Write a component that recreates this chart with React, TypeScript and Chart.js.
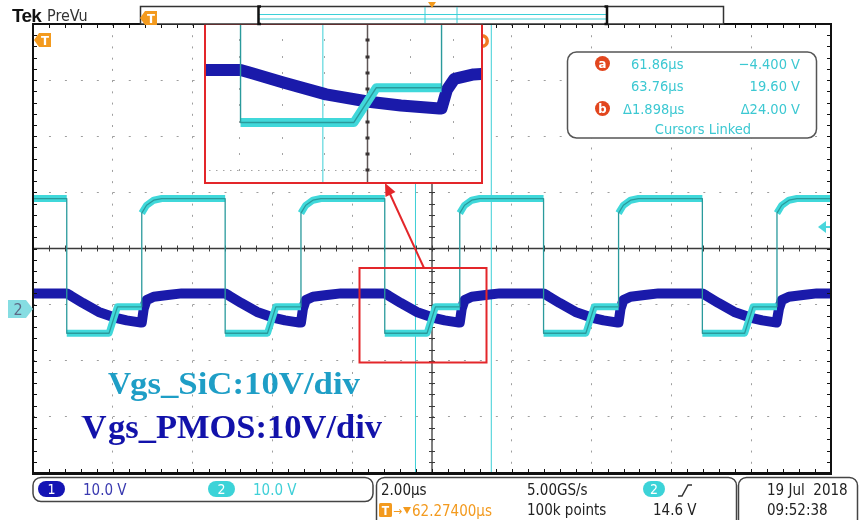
import React, { useEffect, useRef } from 'react';
import { Chart, registerables } from 'chart.js';

Chart.register(...registerables);

// Horizontal window: 2 µs/div over 10 divisions, centred on the 62.274 µs delay
const TIME_START = 52.274;
const TIME_END = 72.274;
const TIME_DIV = 2;
// Vertical window: 10 V/div over 8 divisions, channel ground 1.07 div below centre
const VOLT_MIN = -29.3;
const VOLT_MAX = 50.7;
const VOLT_DIV = 10;

// Switching edges of the SiC gate drive (µs)
const FALL_EDGES = [53.12, 57.09, 61.09, 65.07, 69.05];
const RISE_EDGES = [55.0, 58.99, 62.97, 66.95, 70.92];

// Vgs_SiC (CH2) levels, V
const SIC_HIGH = 19.6;
const SIC_LOW = -4.4;
const SIC_PLATEAU = 0.3;
// step from the negative level up to the plateau, after each falling edge (µs)
const SIC_STEP_DT = [1.06, 1.27];
// settling after each rising edge
const SIC_SETTLE_DT = [0, 0.12, 0.3, 0.5];
const SIC_SETTLE_V = [17.0, 18.4, 19.3, 19.6];

// Vgs_PMOS (CH1), V
const PMOS_HIGH = 2.7;
const PMOS_FALL_DT = [0, 0.1, 0.4, 0.8, 1.2, 1.5, 1.86];
const PMOS_FALL_V = [2.7, 2.3, 1.0, -0.6, -1.6, -2.1, -2.5];
const PMOS_RISE_DT = [0, 0.05, 0.12, 0.3, 0.65, 1.0];
const PMOS_RISE_V = [-2.5, 0.0, 1.5, 2.1, 2.4, 2.7];

// Waveform cursors
const CURSOR_T = [61.86, 63.76];
const CURSOR_V = [-4.4, 19.6];
const CURSOR_DT = 1.898;

// Zoomed view window
const ZOOM_T = [60.767, 63.339];
const ZOOM_V = [-12.46, 8.79];
const ZOOM_ROW_ANCHOR = 0.1;
const ZOOM_ROW_STEP = 2.2;

const UI_FONT = '"DejaVu Sans Condensed", "DejaVu Sans", sans-serif';
const SERIF = '"Liberation Serif", "Times New Roman", serif';

type Pt = { x: number; y: number | null };

function sicTrace(withGaps: boolean): Pt[] {
  const pts: Pt[] = [{ x: TIME_START, y: SIC_HIGH }];
  FALL_EDGES.forEach((tf, i) => {
    const tr = RISE_EDGES[i];
    pts.push({ x: tf, y: SIC_HIGH });
    if (withGaps) pts.push({ x: tf, y: null });
    pts.push({ x: tf, y: SIC_LOW });
    pts.push({ x: tf + SIC_STEP_DT[0], y: SIC_LOW });
    pts.push({ x: tf + SIC_STEP_DT[1], y: SIC_PLATEAU });
    pts.push({ x: tr, y: SIC_PLATEAU });
    if (withGaps) pts.push({ x: tr, y: null });
    SIC_SETTLE_DT.forEach((dt, k) => pts.push({ x: tr + dt, y: SIC_SETTLE_V[k] }));
  });
  pts.push({ x: TIME_END, y: SIC_HIGH });
  return pts;
}

function pmosTrace(): Pt[] {
  const pts: Pt[] = [{ x: TIME_START, y: PMOS_HIGH }];
  FALL_EDGES.forEach((tf, i) => {
    PMOS_FALL_DT.forEach((dt, k) => pts.push({ x: tf + dt, y: PMOS_FALL_V[k] }));
    PMOS_RISE_DT.forEach((dt, k) => pts.push({ x: RISE_EDGES[i] + dt, y: PMOS_RISE_V[k] }));
  });
  pts.push({ x: TIME_END, y: PMOS_HIGH });
  return pts;
}

function traceDatasets(w: { core: number; band: number; pmos: number }, vMin: number, vMax: number) {
  const common = { pointRadius: 0, tension: 0, fill: false, spanGaps: false, borderJoinStyle: 'round' as const };
  return [
    { ...common, data: sicTrace(false), borderColor: '#2a9a9c', borderWidth: w.core, order: 0 },
    { ...common, data: sicTrace(true), borderColor: '#40d8da', borderWidth: w.band, order: 1 },
    { ...common, data: pmosTrace(), borderColor: '#1a1aaa', borderWidth: w.pmos, order: 2 },
    ...CURSOR_T.map((t) => ({
      ...common,
      data: [
        { x: t, y: vMin },
        { x: t, y: vMax },
      ],
      borderColor: '#3ccfd6',
      borderWidth: 1,
      order: 3,
    })),
  ];
}

function stepValues(from: number, to: number, step: number) {
  const out: number[] = [];
  for (let v = from; v <= to + 1e-6; v += step) out.push(v);
  return out;
}

// Centre cross, frame and minor ticks of the main graticule
const mainGraticule = {
  id: 'mainGraticule',
  beforeDatasetsDraw(chart: any) {
    const { ctx, chartArea: a, scales } = chart;
    const x = scales.x;
    const y = scales.y;
    const cx = x.getPixelForValue((TIME_START + TIME_END) / 2);
    const cy = y.getPixelForValue((VOLT_MIN + VOLT_MAX) / 2);
    ctx.save();
    ctx.strokeStyle = '#3a3a3a';
    ctx.lineWidth = 1.3;
    ctx.beginPath();
    ctx.moveTo(a.left, cy);
    ctx.lineTo(a.right, cy);
    ctx.moveTo(cx, a.top);
    ctx.lineTo(cx, a.bottom);
    ctx.stroke();
    ctx.lineWidth = 1;
    ctx.beginPath();
    stepValues(TIME_START, TIME_END, TIME_DIV / 5).forEach((t) => {
      const px = Math.round(x.getPixelForValue(t)) + 0.5;
      ctx.moveTo(px, cy - 3);
      ctx.lineTo(px, cy + 3);
    });
    stepValues(VOLT_MIN, VOLT_MAX, VOLT_DIV / 5).forEach((v) => {
      const py = Math.round(y.getPixelForValue(v)) + 0.5;
      ctx.moveTo(cx - 3, py);
      ctx.lineTo(cx + 3, py);
    });
    ctx.stroke();
    ctx.restore();
  },
  afterDatasetsDraw(chart: any) {
    const { ctx, chartArea: a, scales } = chart;
    const x = scales.x;
    const y = scales.y;
    ctx.save();
    ctx.strokeStyle = '#111';
    ctx.lineWidth = 1;
    ctx.beginPath();
    stepValues(TIME_START, TIME_END, TIME_DIV / 5).forEach((t) => {
      const px = Math.round(x.getPixelForValue(t)) + 0.5;
      ctx.moveTo(px, a.top);
      ctx.lineTo(px, a.top + 4);
      ctx.moveTo(px, a.bottom);
      ctx.lineTo(px, a.bottom - 4);
    });
    stepValues(VOLT_MIN, VOLT_MAX, VOLT_DIV / 5).forEach((v) => {
      const py = Math.round(y.getPixelForValue(v)) + 0.5;
      ctx.moveTo(a.left, py);
      ctx.lineTo(a.left + 4, py);
      ctx.moveTo(a.right, py);
      ctx.lineTo(a.right - 4, py);
    });
    ctx.stroke();
    ctx.lineWidth = 2;
    ctx.strokeRect(a.left, a.top, a.right - a.left, a.bottom - a.top);
    ctx.lineWidth = 3;
    ctx.beginPath();
    ctx.moveTo(a.left - 1, a.bottom + 0.5);
    ctx.lineTo(a.right + 1, a.bottom + 0.5);
    ctx.stroke();
    ctx.restore();
  },
};

// Dotted graticule of the zoomed view
const zoomGraticule = {
  id: 'zoomGraticule',
  beforeDatasetsDraw(chart: any) {
    const { ctx, chartArea: a, scales } = chart;
    const x = scales.x;
    const y = scales.y;
    const cols = stepValues(TIME_START, TIME_END, TIME_DIV / 5).filter((t) => t > ZOOM_T[0] && t < ZOOM_T[1]);
    const rows: number[] = [];
    for (let v = ZOOM_ROW_ANCHOR; v < ZOOM_V[1]; v += ZOOM_ROW_STEP) rows.push(v);
    for (let v = ZOOM_ROW_ANCHOR - ZOOM_ROW_STEP; v > ZOOM_V[0]; v -= ZOOM_ROW_STEP) rows.push(v);
    ctx.save();
    ctx.fillStyle = '#a4a4a4';
    cols.forEach((t) => {
      const px = Math.round(x.getPixelForValue(t));
      rows.forEach((v) => ctx.fillRect(px, Math.round(y.getPixelForValue(v)) - 1, 1, 2));
    });
    const lowest = Math.min(...rows);
    const ly = Math.round(y.getPixelForValue(lowest));
    for (let px = a.left + 3; px < a.right; px += 7) ctx.fillRect(px, ly, 1.5, 1);
    const cx = Math.round(x.getPixelForValue((TIME_START + TIME_END) / 2)) + 0.5;
    ctx.strokeStyle = '#5e5656';
    ctx.lineWidth = 1.5;
    ctx.beginPath();
    ctx.moveTo(cx, a.top);
    ctx.lineTo(cx, a.bottom);
    ctx.stroke();
    ctx.fillStyle = '#3a3434';
    rows.forEach((v) => ctx.fillRect(cx - 2, Math.round(y.getPixelForValue(v)) - 1.5, 4, 3));
    ctx.restore();
  },
};

function mainConfig(): any {
  return {
    type: 'line',
    data: { datasets: traceDatasets({ core: 1.3, band: 7, pmos: 10 }, VOLT_MIN, VOLT_MAX) },
    options: {
      responsive: false,
      animation: false,
      devicePixelRatio: 1,
      events: [],
      layout: { autoPadding: false, padding: { left: 33, right: 28, top: 24, bottom: 47 } },
      plugins: { legend: { display: false }, tooltip: { enabled: false } },
      scales: {
        x: {
          type: 'linear',
          min: TIME_START,
          max: TIME_END,
          afterBuildTicks: (s: any) => {
            s.ticks = stepValues(TIME_START, TIME_END, TIME_DIV).map((value) => ({ value }));
          },
          ticks: { display: false },
          grid: { color: '#9e9e9e', lineWidth: 1, drawTicks: false },
          border: { display: false, dash: [2, 9.225] },
        },
        y: {
          type: 'linear',
          min: VOLT_MIN,
          max: VOLT_MAX,
          afterBuildTicks: (s: any) => {
            s.ticks = stepValues(VOLT_MIN, VOLT_MAX, VOLT_DIV).map((value) => ({ value }));
          },
          ticks: { display: false },
          grid: { color: '#9e9e9e', lineWidth: 1, drawTicks: false },
          border: { display: false, dash: [2, 13.96] },
        },
      },
    },
    plugins: [mainGraticule],
  };
}

function zoomConfig(): any {
  const datasets = traceDatasets({ core: 1.4, band: 9, pmos: 12 }, ZOOM_V[0], ZOOM_V[1]).map((d) => ({ ...d, clip: 0 }));
  return {
    type: 'line',
    data: { datasets },
    options: {
      responsive: false,
      animation: false,
      devicePixelRatio: 1,
      events: [],
      layout: { autoPadding: false, padding: 0 },
      plugins: { legend: { display: false }, tooltip: { enabled: false } },
      scales: {
        x: { type: 'linear', display: false, min: ZOOM_T[0], max: ZOOM_T[1] },
        y: { type: 'linear', display: false, min: ZOOM_V[0], max: ZOOM_V[1] },
      },
    },
    plugins: [zoomGraticule],
  };
}

function ChartCanvas({ width, height, make }: { width: number; height: number; make: () => any }) {
  const ref = useRef<HTMLCanvasElement | null>(null);
  useEffect(() => {
    if (!ref.current) return;
    const chart = new Chart(ref.current, make());
    return () => chart.destroy();
  }, []);
  return <canvas ref={ref} width={width} height={height} style={{ display: 'block', width, height }} />;
}

const uiText = { fontFamily: UI_FONT, fontStretch: 'condensed' } as any;

function Pill({ x, y, w, fill, label }: { x: number; y: number; w: number; fill: string; label: string }) {
  return (
    <g>
      <rect x={x} y={y} width={w} height={16} rx={8} fill={fill} />
      <text x={x + w / 2} y={y + 13} textAnchor="middle" fontSize={14} fill="#fff" style={uiText}>
        {label}
      </text>
    </g>
  );
}

function TFlag({ x, y }: { x: number; y: number }) {
  return (
    <g>
      <path d={`M${x} ${y + 7} L${x + 5} ${y} L${x + 17} ${y} L${x + 17} ${y + 14} L${x + 5} ${y + 14} Z`} fill="#f39a1e" />
      <text x={x + 11} y={y + 12} textAnchor="middle" fontSize={13} fontWeight="bold" fill="#fff" style={uiText}>
        T
      </text>
    </g>
  );
}

export default function App() {
  const readout = [
    { mark: 'a', time: `${CURSOR_T[0].toFixed(2)}µs`, tx: 631, volt: `−${Math.abs(CURSOR_V[0]).toFixed(3)} V`, y: 68.5 },
    { mark: '', time: `${CURSOR_T[1].toFixed(2)}µs`, tx: 631, volt: `${CURSOR_V[1].toFixed(2)} V`, y: 91 },
    { mark: 'b', time: `Δ${CURSOR_DT.toFixed(3)}µs`, tx: 623, volt: `Δ${(CURSOR_V[1] - CURSOR_V[0]).toFixed(2)} V`, y: 113.5 },
  ];
  return (
    <div style={{ position: 'fixed', left: 0, top: 0, width: 859, height: 520, background: '#fff', overflow: 'hidden' }}>
      <div style={{ position: 'absolute', left: 0, top: 0 }}>
        <ChartCanvas width={859} height={520} make={mainConfig} />
      </div>

      <svg width={859} height={520} style={{ position: 'absolute', left: 0, top: 0, pointerEvents: 'none' }}>
        {/* cursor b marker, partly under the zoomed view */}
        <circle cx={482} cy={41} r={7} fill="#f07a22" />
        <circle cx={482} cy={41} r={3.5} fill="#fff" />
      </svg>

      <div
        style={{
          position: 'absolute',
          left: 204,
          top: 23,
          width: 279,
          height: 161,
          border: '2px solid #e3262a',
          boxSizing: 'border-box',
          background: '#fff',
        }}
      >
        <ChartCanvas width={275} height={157} make={zoomConfig} />
      </div>

      <svg width={859} height={520} style={{ position: 'absolute', left: 0, top: 0, pointerEvents: 'none' }}>
        {/* header */}
        <text x={12} y={22} fontSize={19} fontWeight="bold" fill="#111" letterSpacing={-0.8} fontFamily='"Liberation Sans", Arial, sans-serif'>
          Tek
        </text>
        <text x={47} y={21} fontSize={16} fill="#333" style={uiText}>
          PreVu
        </text>

        {/* record view bar */}
        <rect x={140.5} y={6.5} width={583} height={17.5} fill="#fff" stroke="#333" strokeWidth={1.5} />
        <line x1={259} y1={14.5} x2={607} y2={14.5} stroke="#3cd0d8" strokeWidth={1.2} />
        <line x1={259} y1={19} x2={607} y2={19} stroke="#3cd0d8" strokeWidth={1.2} />
        <line x1={425} y1={7} x2={425} y2={23} stroke="#3cd0d8" strokeWidth={1} />
        <line x1={457} y1={7} x2={457} y2={23} stroke="#3cd0d8" strokeWidth={1} />
        <path d="M261 6.5 L258.5 6.5 L258.5 24 L261 24" fill="none" stroke="#111" strokeWidth={2.5} />
        <path d="M604.5 6.5 L607 6.5 L607 24 L604.5 24" fill="none" stroke="#111" strokeWidth={2.5} />
        <path d="M428 2 L436 2 L432 8 Z" fill="#f39a1e" />
        <TFlag x={140} y={11} />

        {/* trigger position marker on the graticule */}
        <TFlag x={34} y={33} />

        {/* channel 2 reference marker */}
        <path d="M8 300 L26 300 L33 309 L26 318 L8 318 Z" fill="#86dde2" />
        <text x={18} y={315} textAnchor="middle" fontSize={16} fill="#5d6a86" style={uiText}>
          2
        </text>

        {/* trigger level marker */}
        <path d="M818 227 L826 221 L826 233 Z" fill="#4ad6dc" />
        <line x1={824} y1={227} x2={830} y2={227} stroke="#4ad6dc" strokeWidth={2} />

        {/* zoom region and pointer */}
        <rect x={359.5} y={268} width={127} height={94.5} fill="none" stroke="#e3262a" strokeWidth={2} />
        <line x1={424} y1={268} x2={390} y2={194} stroke="#e3262a" strokeWidth={2} />
        <path d="M385 183 L395.5 192 L385.5 197 Z" fill="#e3262a" />

        {/* cursor readout */}
        <rect x={567.5} y={52} width={249} height={86} rx={9} fill="#fff" stroke="#555" strokeWidth={1.5} />
        {readout.map((r, i) => (
          <g key={i}>
            {r.mark && (
              <g>
                <circle cx={602.5} cy={r.y - 5} r={7.5} fill="#e2461e" />
                <text x={602.5} y={r.y - 1} textAnchor="middle" fontSize={13} fontWeight="bold" fill="#fff" style={uiText}>
                  {r.mark}
                </text>
              </g>
            )}
            <text x={r.tx} y={r.y} fontSize={14.5} fill="#3cc8d2" style={uiText}>
              {r.time}
            </text>
            <text x={800} y={r.y} textAnchor="end" fontSize={14.5} fill="#3cc8d2" style={uiText}>
              {r.volt}
            </text>
          </g>
        ))}
        <text x={703} y={133.5} textAnchor="middle" fontSize={14.5} fill="#3cc8d2" style={uiText}>
          Cursors Linked
        </text>

        {/* channel annotations */}
        <text x={108} y={394} fontSize={32} fontWeight="bold" fill="#1e9ec6" fontFamily={SERIF}>
          V
        </text>
        <text x={130} y={394} fontSize={32} fontWeight="bold" fill="#1e9ec6" fontFamily={SERIF} textLength={230} lengthAdjust="spacingAndGlyphs">
          gs_SiC:10V/div
        </text>
        <text x={82} y={438} fontSize={34} fontWeight="bold" fill="#1212aa" fontFamily={SERIF}>
          V
        </text>
        <text x={108} y={438} fontSize={34} fontWeight="bold" fill="#1212aa" fontFamily={SERIF} textLength={274} lengthAdjust="spacingAndGlyphs">
          gs_PMOS:10V/div
        </text>

        {/* vertical settings */}
        <rect x={33} y={477.5} width={340} height={24} rx={8} fill="#fff" stroke="#444" strokeWidth={1.5} />
        <Pill x={38} y={481} w={27} fill="#1414b4" label="1" />
        <text x={83} y={495} fontSize={15} fill="#3a3ab0" style={uiText}>
          10.0 V
        </text>
        <Pill x={208} y={481} w={27} fill="#3cd3d8" label="2" />
        <text x={253} y={495} fontSize={15} fill="#40d0d8" style={uiText}>
          10.0 V
        </text>

        {/* horizontal / trigger settings */}
        <rect x={376.5} y={477.5} width={360} height={50} rx={8} fill="#fff" stroke="#444" strokeWidth={1.5} />
        <text x={381} y={495} fontSize={15} fill="#222" style={uiText}>
          2.00µs
        </text>
        <rect x={379} y={503} width={13} height={14} rx={1.5} fill="#f39a1e" />
        <text x={385.5} y={515} textAnchor="middle" fontSize={12} fontWeight="bold" fill="#fff" style={uiText}>
          T
        </text>
        <text x={393} y={515} fontSize={12} fill="#f39a1e" style={uiText}>
          →
        </text>
        <path d="M403 507 L411 507 L407 514 Z" fill="#f39a1e" />
        <text x={412} y={516} fontSize={15} fill="#f39a1e" style={uiText}>
          62.27400µs
        </text>
        <text x={527} y={495} fontSize={15} fill="#222" style={uiText}>
          5.00GS/s
        </text>
        <text x={527} y={515} fontSize={15} fill="#222" style={uiText}>
          100k points
        </text>
        <Pill x={643} y={481} w={22} fill="#3cd3d8" label="2" />
        <path d="M678 496 L682 496 L688 485 L692 485" fill="none" stroke="#333" strokeWidth={1.5} />
        <text x={653} y={515} fontSize={15} fill="#222" style={uiText}>
          14.6 V
        </text>

        {/* date / time */}
        <rect x={738.5} y={477.5} width={119} height={50} rx={8} fill="#fff" stroke="#444" strokeWidth={1.5} />
        <text x={767} y={495} fontSize={15} fill="#222" style={{ ...uiText, whiteSpace: 'pre' }}>
          {'19 Jul  2018'}
        </text>
        <text x={767} y={515} fontSize={15} fill="#222" style={uiText}>
          09:52:38
        </text>
      </svg>
    </div>
  );
}
